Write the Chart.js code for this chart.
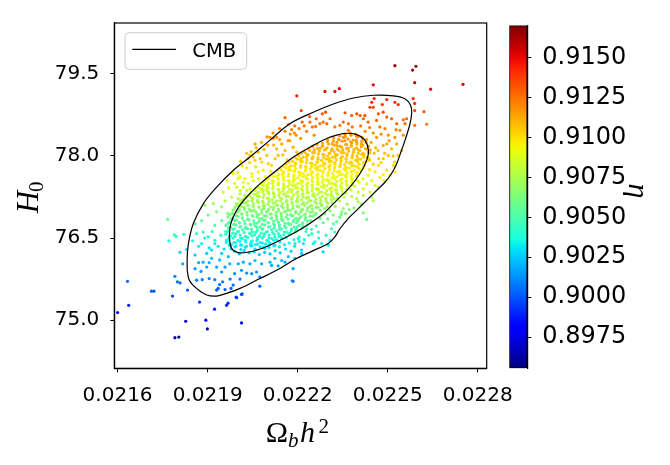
<!DOCTYPE html>
<html>
<head>
<meta charset="utf-8">
<script src="https://cdn.jsdelivr.net/npm/chart.js@4.4.1/dist/chart.umd.min.js"></script>
<style>
  body { margin: 0; background: #ffffff; }
  #wrap { position: relative; width: 670px; height: 465px; }
  #mainChart { position: absolute; left: 0; top: 0; }
  #cbarChart { position: absolute; left: 495px; top: 0; }
</style>
</head>
<body>
<div id="wrap">
  <canvas id="mainChart" width="670" height="465"></canvas>
  <canvas id="cbarChart" width="175" height="465"></canvas>
</div>
<script>
// 축 눈금
const xTicks = [0.0216, 0.0219, 0.0222, 0.0225, 0.0228];
const yTicks = [75.0, 76.5, 78.0, 79.5];
const cbTicks = [0.8975, 0.9000, 0.9025, 0.9050, 0.9075, 0.9100, 0.9125, 0.9150];
const cbMin = 0.89555;
const cbMax = 0.91701;

// CMB 등고선 (바깥 / 안쪽)
const outerOmega = [0.021832, 0.021832, 0.021836, 0.021852, 0.021886, 0.021930, 0.021986, 0.022041, 0.022108, 0.022174, 0.022252, 0.022319, 0.022386, 0.022452, 0.022519, 0.022556, 0.022576, 0.022580, 0.022574, 0.022558, 0.022544, 0.022530, 0.022513, 0.022491, 0.022463, 0.022430, 0.022397, 0.022369, 0.022341, 0.022324, 0.022302, 0.022252, 0.022197, 0.022130, 0.022074, 0.022008, 0.021963, 0.021930, 0.021897, 0.021863, 0.021839, 0.021832];
const outerH0 = [75.91, 76.15, 76.40, 76.76, 77.13, 77.43, 77.74, 77.98, 78.29, 78.59, 78.80, 78.95, 79.06, 79.11, 79.10, 79.05, 78.93, 78.78, 78.58, 78.29, 78.07, 77.86, 77.68, 77.52, 77.37, 77.19, 77.01, 76.86, 76.67, 76.52, 76.40, 76.27, 76.13, 75.91, 75.76, 75.58, 75.49, 75.44, 75.46, 75.58, 75.73, 75.91];
const innerOmega = [0.021972, 0.021977, 0.021997, 0.022030, 0.022074, 0.022130, 0.022186, 0.022241, 0.022297, 0.022352, 0.022397, 0.022424, 0.022436, 0.022430, 0.022408, 0.022374, 0.022330, 0.022286, 0.022230, 0.022174, 0.022119, 0.022063, 0.022008, 0.021980, 0.021972];
const innerH0 = [76.52, 76.76, 77.01, 77.25, 77.49, 77.74, 77.98, 78.16, 78.32, 78.41, 78.39, 78.29, 78.10, 77.92, 77.68, 77.43, 77.19, 76.95, 76.73, 76.55, 76.40, 76.28, 76.23, 76.31, 76.52];

// 샘플 점 [Omega_b h^2, H0, eta]
const outlierPoints = [
  [0.021600,75.14,0.8985],[0.021633,75.71,0.9006],[0.021637,75.27,0.8989],[0.021713,75.53,0.9000],[0.021721,75.53,0.9001],
  [0.021783,75.44,0.8996],[0.021791,74.68,0.8962],[0.021804,74.69,0.8963],[0.021827,74.98,0.8968],[0.021894,75.00,0.8978],
  [0.021899,74.84,0.8972],[0.021923,75.20,0.8987],[0.021873,75.33,0.8992],[0.021963,75.27,0.8990],[0.021968,75.31,0.8991],
  [0.022013,74.95,0.8977],[0.021995,75.42,0.8996],[0.022015,75.48,0.8998],[0.022074,75.62,0.9004],[0.022182,75.72,0.9008],
  [0.021767,76.84,0.9057],[0.021771,76.45,0.9037],[0.022430,76.84,0.9058],
  [0.022524,79.65,0.9166],[0.022583,79.57,0.9163],[0.022594,79.64,0.9166],[0.022590,79.34,0.9158],[0.022751,79.31,0.9152],
  [0.022643,79.22,0.9150],[0.022452,79.30,0.9152],[0.022197,79.10,0.9146],[0.022291,79.18,0.9149],[0.022324,79.18,0.9149],
  [0.022339,79.23,0.9151],[0.022212,78.83,0.9136],[0.022158,78.70,0.9130],[0.022585,79.05,0.9142],[0.022621,78.81,0.9130],
  [0.022630,78.58,0.9123],[0.022590,78.96,0.9140],[0.022552,78.66,0.9128]
];

const lowerRingPoints = [
  [0.021789,76.56,0.9043],[0.021795,76.53,0.9042],[0.021821,76.57,0.9043],[0.021808,76.24,0.9027],[0.021817,76.03,0.9019],
  [0.021830,76.29,0.9029],[0.021791,75.80,0.9011],[0.021799,75.70,0.9007],[0.021808,75.68,0.9006],[0.021833,75.55,0.9001],
  [0.021930,75.55,0.9001],[0.021935,75.58,0.9002],[0.021958,75.56,0.9001],[0.021985,75.64,0.9004],[0.021978,75.58,0.9002],
  [0.021863,75.73,0.9009],[0.021882,75.74,0.9009],[0.021905,75.76,0.9010],[0.021924,75.74,0.9009],[0.021950,75.70,0.9008],
  [0.021878,75.89,0.9014],[0.021897,75.97,0.9017],[0.021858,75.94,0.9016],[0.021885,76.06,0.9021],[0.021913,76.13,0.9023],
  [0.021930,75.97,0.9017],[0.021947,75.88,0.9014],[0.021958,75.97,0.9017],[0.021974,76.03,0.9020],[0.021858,76.19,0.9024],
  [0.021880,76.40,0.9034],[0.021897,76.22,0.9025],[0.021913,76.28,0.9028],[0.021924,76.40,0.9034],[0.021947,76.22,0.9025],
  [0.021969,76.16,0.9023],[0.021863,76.58,0.9044],[0.021885,76.61,0.9045],[0.021902,76.52,0.9040],[0.021924,76.46,0.9037],
  [0.021944,76.55,0.9042],[0.021963,76.46,0.9037],[0.021858,76.76,0.9053],[0.021880,76.82,0.9056],[0.021902,76.92,0.9061],
  [0.021924,76.73,0.9051],[0.021947,76.82,0.9056],[0.021967,76.95,0.9063],[0.021891,77.10,0.9070],[0.021919,77.13,0.9072],
  [0.021947,77.07,0.9069],[0.021930,76.98,0.9064],[0.022019,77.52,0.9090],[0.022047,77.62,0.9094],[0.022030,77.37,0.9084],
  [0.022008,77.31,0.9081],[0.021980,77.25,0.9078],[0.021997,77.13,0.9072],[0.021958,77.18,0.9075],[0.021952,77.34,0.9082],
  [0.022002,76.03,0.9019],[0.022019,76.06,0.9021],[0.022041,76.03,0.9019],[0.022058,76.09,0.9022],[0.022080,76.03,0.9019],
  [0.022108,76.06,0.9021],[0.022124,76.13,0.9023],[0.022147,76.09,0.9022],[0.022169,76.16,0.9024],[0.022191,76.13,0.9023],
  [0.022013,75.91,0.9015],[0.022030,75.86,0.9013],[0.022047,75.85,0.9013],[0.022063,75.88,0.9014],[0.022074,75.79,0.9011],
  [0.022113,76.00,0.9018],[0.022135,75.99,0.9018],[0.022158,76.06,0.9021],[0.022185,75.94,0.9016],[0.022008,75.75,0.9009],
  [0.022185,75.71,0.9008],[0.022013,75.47,0.8998],[0.021997,75.41,0.8996],
  [0.022230,76.67,0.9048],[0.022247,76.58,0.9044],[0.022269,76.61,0.9045],[0.022258,76.43,0.9036],[0.022280,76.40,0.9034],
  [0.022308,76.46,0.9037],[0.022302,76.37,0.9033],[0.022324,76.61,0.9045],[0.022319,76.76,0.9053],[0.022313,76.67,0.9048],
  [0.022347,76.98,0.9064],[0.022352,77.04,0.9067],[0.022285,76.25,0.9027],[0.022213,76.28,0.9028],[0.022219,76.40,0.9034],
  [0.022202,76.49,0.9038],[0.022191,76.40,0.9034],[0.022213,76.22,0.9025],[0.022252,76.40,0.9034],[0.022340,76.88,0.9059],
  [0.022365,77.12,0.9071],[0.022380,77.26,0.9078],[0.022372,77.02,0.9066],[0.022330,76.80,0.9056],[0.022295,76.55,0.9043],
  [0.022270,76.50,0.9040],[0.022345,76.93,0.9062],
  [0.022072,76.20,0.9024],[0.022090,76.24,0.9026],[0.022108,76.21,0.9025],[0.022125,76.27,0.9028],[0.022142,76.23,0.9026],
  [0.022160,76.30,0.9030],[0.022178,76.26,0.9028],[0.022104,76.33,0.9031],[0.022121,76.36,0.9033],[0.022139,76.34,0.9032],
  [0.022156,76.38,0.9034],[0.022172,76.41,0.9035],[0.022190,76.35,0.9032],[0.022205,76.44,0.9037],[0.022222,76.47,0.9038],
  [0.022188,76.47,0.9039],[0.022205,76.52,0.9041],[0.022237,76.55,0.9043],[0.022228,76.62,0.9046],[0.022246,76.66,0.9048],
  [0.021870,76.35,0.9032],[0.021890,76.50,0.9039],[0.021905,76.32,0.9030],[0.021935,76.35,0.9032],[0.021955,76.30,0.9030],
  [0.021870,76.05,0.9020],[0.021905,76.05,0.9020],[0.021940,76.10,0.9022],[0.021960,76.62,0.9046],[0.021915,76.62,0.9046],
  [0.021850,76.45,0.9037],[0.021990,75.85,0.9013],[0.021975,75.75,0.9009],[0.021940,75.65,0.9005]
];

const upperRingPoints = [
  [0.022170,78.58,0.9125],[0.022189,78.42,0.9119],[0.022241,78.62,0.9127],[0.022249,78.53,0.9123],[0.022260,78.54,0.9124],
  [0.022274,78.59,0.9126],[0.022285,78.62,0.9127],[0.022297,78.59,0.9126],[0.022282,78.77,0.9133],[0.022293,78.80,0.9134],
  [0.022308,78.68,0.9129],[0.022324,78.53,0.9123],[0.022341,78.56,0.9124],[0.022352,78.62,0.9127],[0.022358,78.79,0.9134],
  [0.022369,78.59,0.9126],[0.022380,78.74,0.9132],[0.022382,78.53,0.9123],[0.022369,78.47,0.9121],
  [0.022108,78.34,0.9117],[0.022119,78.32,0.9116],[0.022130,78.34,0.9117],[0.022147,78.22,0.9112],[0.022130,78.13,0.9109],
  [0.022158,78.10,0.9108],[0.022174,78.28,0.9114],[0.022185,78.16,0.9110],[0.022197,78.07,0.9107],
  [0.022041,78.01,0.9106],[0.022035,77.95,0.9105],[0.022052,77.98,0.9106],[0.022069,78.07,0.9107],[0.022080,77.89,0.9103],
  [0.022097,78.01,0.9106],[0.022102,77.86,0.9102],[0.022113,77.83,0.9101],[0.022135,78.01,0.9106],
  [0.022002,77.59,0.9092],[0.022008,77.62,0.9093],[0.022024,77.59,0.9092],[0.022047,77.68,0.9095],[0.022052,77.55,0.9091],
  [0.022069,77.71,0.9096],[0.022086,77.52,0.9090],[0.022019,77.43,0.9086],[0.022008,77.37,0.9084],[0.022041,77.40,0.9085],
  [0.022058,77.37,0.9084],[0.022080,77.40,0.9085],[0.022097,77.37,0.9084],[0.021997,77.43,0.9086],[0.022002,77.22,0.9077],
  [0.022024,77.28,0.9079],[0.022013,77.19,0.9076],
  [0.022060,77.80,0.9099],[0.022085,77.74,0.9097],[0.022125,77.95,0.9105],[0.022150,78.02,0.9106],[0.022165,77.93,0.9104],
  [0.022030,77.78,0.9098],[0.022120,78.20,0.9111],[0.022175,78.40,0.9118],[0.022210,78.32,0.9116],[0.022230,78.45,0.9120],
  [0.022255,78.38,0.9118],[0.022205,78.50,0.9122],
  [0.021990,77.50,0.9089],[0.022000,77.70,0.9096],[0.022015,77.82,0.9100],[0.022040,77.88,0.9102],[0.022058,77.92,0.9104],
  [0.022075,77.95,0.9105],[0.022088,78.12,0.9109],[0.022100,78.20,0.9111],[0.022062,78.15,0.9110],[0.022045,78.08,0.9107],
  [0.022140,78.30,0.9115],[0.022158,78.45,0.9120],[0.022190,78.55,0.9124],[0.022215,78.62,0.9127],[0.022092,77.62,0.9094],
  [0.022070,77.58,0.9092],[0.022110,77.72,0.9097],[0.022035,77.50,0.9089],
  [0.022455,79.05,0.9144],[0.022447,78.98,0.9141],[0.022441,78.89,0.9138],[0.022452,78.89,0.9138],[0.022482,78.94,0.9140],
  [0.022497,79.03,0.9143],[0.022524,78.98,0.9141],[0.022535,78.94,0.9140],[0.022590,78.83,0.9136],[0.022590,78.56,0.9124],
  [0.022563,78.68,0.9129],[0.022558,78.59,0.9126],[0.022530,78.59,0.9126],[0.022513,78.68,0.9129],[0.022497,78.71,0.9130],
  [0.022485,78.80,0.9134],[0.022469,78.77,0.9133],[0.022463,78.65,0.9128],[0.022435,78.62,0.9127],[0.022419,78.68,0.9129],
  [0.022408,78.74,0.9132],[0.022397,78.77,0.9133],[0.022424,78.74,0.9132],
  [0.022474,78.53,0.9123],[0.022491,78.50,0.9122],[0.022502,78.38,0.9118],[0.022524,78.34,0.9117],[0.022541,78.47,0.9121],
  [0.022552,78.38,0.9118],[0.022530,78.22,0.9112],[0.022513,78.13,0.9109],[0.022485,78.19,0.9111],[0.022463,78.34,0.9117],
  [0.022497,78.22,0.9112],[0.022547,78.10,0.9108],[0.022502,78.01,0.9106],[0.022485,77.95,0.9105],[0.022524,77.89,0.9103],
  [0.022535,78.01,0.9106],
  [0.022469,77.83,0.9101],[0.022497,77.74,0.9098],[0.022519,77.83,0.9101],[0.022458,77.71,0.9097],[0.022474,77.61,0.9094],
  [0.022524,77.71,0.9097],[0.022508,77.65,0.9095],[0.022447,77.55,0.9091],[0.022430,77.49,0.9089],[0.022458,77.46,0.9088],
  [0.022419,77.40,0.9085],[0.022441,77.34,0.9082],[0.022469,77.43,0.9087],[0.022402,77.34,0.9082],[0.022419,77.28,0.9080],
  [0.022447,77.25,0.9078],[0.022397,77.22,0.9077],[0.022402,77.16,0.9074],[0.022419,76.96,0.9064],[0.022452,77.18,0.9075],
  [0.022410,78.55,0.9124],[0.022425,78.45,0.9120],[0.022440,78.52,0.9123],[0.022452,78.42,0.9119],[0.022445,78.25,0.9113],
  [0.022460,78.15,0.9110],[0.022455,78.05,0.9107],[0.022470,77.95,0.9105]
];

const extraRingPoints = [
  [0.022262,76.72,0.9051],[0.022285,76.78,0.9054],[0.022300,76.85,0.9058],[0.022318,76.92,0.9062],[0.022275,76.86,0.9058],
  [0.022290,76.95,0.9063],[0.022308,77.00,0.9066],[0.022325,77.08,0.9070],[0.022340,77.18,0.9075],[0.022322,77.22,0.9077],
  [0.022355,77.25,0.9078],[0.022360,77.32,0.9081],[0.022378,77.38,0.9084],[0.022390,77.45,0.9087],[0.022405,77.52,0.9090],
  [0.022418,77.58,0.9092],[0.022435,77.65,0.9094],[0.022440,77.75,0.9098],[0.022452,77.85,0.9101],[0.022440,77.92,0.9104],
  [0.022478,77.88,0.9102],[0.022490,78.05,0.9107],[0.022468,78.10,0.9108],[0.022518,78.00,0.9106],[0.022505,78.28,0.9114],
  [0.022478,78.40,0.9118],[0.022528,78.48,0.9121],[0.022488,77.55,0.9091],[0.022485,77.66,0.9095],[0.022412,77.12,0.9072],
  [0.022388,77.05,0.9068],[0.022360,76.95,0.9063],
  [0.022080,78.25,0.9113],[0.022098,78.35,0.9117],[0.022118,78.42,0.9119],[0.022140,78.50,0.9122],[0.022168,78.28,0.9114],
  [0.022195,78.38,0.9118],[0.022222,78.55,0.9124],[0.022240,78.72,0.9131],[0.022262,78.68,0.9129],[0.022180,78.48,0.9121],
  [0.022058,78.22,0.9112],[0.022030,78.05,0.9107],[0.022010,77.90,0.9103],[0.021985,77.68,0.9095],[0.021965,77.55,0.9091],
  [0.021970,77.42,0.9086]
];

const corePoints = [
  [0.021990,76.26,0.9027],[0.022005,76.21,0.9025],[0.022022,76.27,0.9027],[0.022038,76.23,0.9026],[0.022055,76.25,0.9026],
  [0.021978,76.30,0.9029],[0.021994,76.35,0.9031],[0.022011,76.29,0.9029],[0.022026,76.33,0.9030],[0.022043,76.36,0.9032],[0.022058,76.30,0.9029],[0.022075,76.34,0.9031],[0.022091,76.31,0.9030],
  [0.021962,76.42,0.9035],[0.021979,76.38,0.9033],[0.021994,76.41,0.9034],[0.022012,76.37,0.9033],[0.022027,76.43,0.9035],[0.022044,76.40,0.9034],[0.022060,76.38,0.9033],[0.022076,76.42,0.9035],[0.022093,76.39,0.9034],[0.022108,76.41,0.9034],[0.022124,76.37,0.9033],
  [0.021968,76.47,0.9038],[0.021985,76.50,0.9039],[0.022001,76.46,0.9037],[0.022016,76.49,0.9038],[0.022034,76.51,0.9039],[0.022049,76.45,0.9037],[0.022066,76.48,0.9038],[0.022082,76.50,0.9039],[0.022097,76.46,0.9037],[0.022114,76.49,0.9038],[0.022130,76.47,0.9038],[0.022147,76.50,0.9039],
  [0.021960,76.57,0.9043],[0.021976,76.54,0.9042],[0.021993,76.58,0.9043],[0.022009,76.55,0.9042],[0.022025,76.53,0.9041],[0.022041,76.59,0.9044],[0.022057,76.56,0.9042],[0.022073,76.54,0.9042],[0.022090,76.58,0.9043],[0.022105,76.55,0.9042],[0.022122,76.57,0.9043],[0.022138,76.53,0.9041],[0.022154,76.56,0.9042],[0.022171,76.58,0.9043],
  [0.021967,76.63,0.9046],[0.021984,76.66,0.9048],[0.022000,76.62,0.9046],[0.022017,76.65,0.9047],[0.022033,76.67,0.9048],[0.022049,76.61,0.9045],[0.022066,76.64,0.9047],[0.022081,76.66,0.9048],[0.022098,76.62,0.9046],[0.022113,76.65,0.9047],[0.022130,76.63,0.9046],[0.022146,76.67,0.9048],[0.022163,76.61,0.9045],[0.022179,76.64,0.9047],[0.022195,76.66,0.9048],
  [0.021961,76.73,0.9052],[0.021977,76.70,0.9050],[0.021994,76.74,0.9052],[0.022010,76.71,0.9051],[0.022026,76.69,0.9050],[0.022042,76.75,0.9053],[0.022059,76.72,0.9051],[0.022075,76.70,0.9050],[0.022091,76.74,0.9052],[0.022107,76.71,0.9051],[0.022123,76.73,0.9052],[0.022140,76.69,0.9050],[0.022156,76.72,0.9051],[0.022172,76.75,0.9053],[0.022188,76.70,0.9050],[0.022205,76.73,0.9052],[0.022219,76.71,0.9051],
  [0.021973,76.79,0.9055],[0.021990,76.82,0.9056],[0.022006,76.78,0.9054],[0.022022,76.81,0.9056],[0.022038,76.83,0.9057],[0.022055,76.77,0.9054],[0.022071,76.80,0.9055],[0.022087,76.82,0.9056],[0.022103,76.78,0.9054],[0.022120,76.81,0.9056],[0.022136,76.79,0.9055],[0.022152,76.83,0.9057],[0.022168,76.77,0.9054],[0.022185,76.80,0.9055],[0.022201,76.82,0.9056],[0.022217,76.78,0.9054],[0.022233,76.81,0.9056],
  [0.021968,76.89,0.9060],[0.021984,76.86,0.9058],[0.022000,76.90,0.9060],[0.022016,76.87,0.9059],[0.022033,76.85,0.9058],[0.022049,76.91,0.9061],[0.022065,76.88,0.9059],[0.022081,76.86,0.9058],[0.022097,76.90,0.9060],[0.022114,76.87,0.9059],[0.022130,76.89,0.9060],[0.022146,76.85,0.9058],[0.022162,76.88,0.9059],[0.022178,76.91,0.9061],[0.022195,76.86,0.9058],[0.022211,76.89,0.9060],[0.022227,76.87,0.9059],[0.022250,76.90,0.9060],
  [0.021983,76.95,0.9063],[0.021999,76.98,0.9065],[0.022015,76.94,0.9063],[0.022031,76.97,0.9064],[0.022048,76.99,0.9065],[0.022064,76.93,0.9062],[0.022080,76.96,0.9064],[0.022096,76.98,0.9065],[0.022112,76.94,0.9063],[0.022129,76.97,0.9064],[0.022145,76.95,0.9063],[0.022161,76.99,0.9065],[0.022177,76.93,0.9062],[0.022193,76.96,0.9064],[0.022210,76.98,0.9065],[0.022226,76.94,0.9063],[0.022242,76.97,0.9064],[0.022262,76.95,0.9063],
  [0.021990,77.05,0.9068],[0.022006,77.02,0.9066],[0.022022,77.06,0.9068],[0.022038,77.03,0.9067],[0.022055,77.01,0.9066],[0.022071,77.07,0.9069],[0.022087,77.04,0.9067],[0.022103,77.02,0.9066],[0.022119,77.06,0.9068],[0.022136,77.03,0.9067],[0.022152,77.05,0.9068],[0.022168,77.01,0.9066],[0.022184,77.04,0.9067],[0.022200,77.07,0.9069],[0.022217,77.02,0.9066],[0.022233,77.05,0.9068],[0.022249,77.03,0.9067],[0.022268,77.06,0.9068],[0.022290,77.04,0.9067],
  [0.022004,77.11,0.9071],[0.022020,77.14,0.9073],[0.022036,77.10,0.9071],[0.022052,77.13,0.9072],[0.022069,77.15,0.9073],[0.022085,77.09,0.9070],[0.022101,77.12,0.9072],[0.022117,77.14,0.9073],[0.022133,77.10,0.9071],[0.022150,77.13,0.9072],[0.022166,77.11,0.9071],[0.022182,77.15,0.9073],[0.022198,77.09,0.9070],[0.022214,77.12,0.9072],[0.022231,77.14,0.9073],[0.022247,77.10,0.9071],[0.022263,77.13,0.9072],[0.022280,77.11,0.9071],[0.022300,77.14,0.9073],
  [0.022018,77.21,0.9077],[0.022034,77.18,0.9075],[0.022050,77.22,0.9077],[0.022066,77.19,0.9076],[0.022083,77.17,0.9075],[0.022099,77.23,0.9078],[0.022115,77.20,0.9076],[0.022131,77.18,0.9075],[0.022147,77.22,0.9077],[0.022164,77.19,0.9076],[0.022180,77.21,0.9077],[0.022196,77.17,0.9075],[0.022212,77.20,0.9076],[0.022228,77.23,0.9078],[0.022245,77.18,0.9075],[0.022261,77.21,0.9077],[0.022277,77.19,0.9076],[0.022294,77.22,0.9077],[0.022312,77.20,0.9076],
  [0.022040,77.27,0.9079],[0.022056,77.30,0.9080],[0.022072,77.26,0.9078],[0.022088,77.29,0.9080],[0.022105,77.31,0.9081],[0.022121,77.25,0.9078],[0.022137,77.28,0.9079],[0.022153,77.30,0.9080],[0.022169,77.26,0.9078],[0.022186,77.29,0.9080],[0.022202,77.27,0.9079],[0.022218,77.31,0.9081],[0.022234,77.25,0.9078],[0.022250,77.28,0.9079],[0.022267,77.30,0.9080],[0.022283,77.26,0.9078],[0.022299,77.29,0.9080],[0.022316,77.27,0.9079],[0.022334,77.30,0.9080],
  [0.022054,77.37,0.9083],[0.022070,77.34,0.9082],[0.022086,77.38,0.9084],[0.022102,77.35,0.9083],[0.022119,77.33,0.9082],[0.022135,77.39,0.9084],[0.022151,77.36,0.9083],[0.022167,77.34,0.9082],[0.022183,77.38,0.9084],[0.022200,77.35,0.9083],[0.022216,77.37,0.9083],[0.022232,77.33,0.9082],[0.022248,77.36,0.9083],[0.022264,77.39,0.9084],[0.022281,77.34,0.9082],[0.022297,77.37,0.9083],[0.022313,77.35,0.9083],[0.022330,77.38,0.9084],[0.022348,77.36,0.9083],
  [0.022070,77.43,0.9086],[0.022086,77.46,0.9087],[0.022102,77.42,0.9085],[0.022118,77.45,0.9087],[0.022135,77.47,0.9088],[0.022151,77.41,0.9085],[0.022167,77.44,0.9086],[0.022183,77.46,0.9087],[0.022199,77.42,0.9085],[0.022216,77.45,0.9087],[0.022232,77.43,0.9086],[0.022248,77.47,0.9088],[0.022264,77.41,0.9085],[0.022280,77.44,0.9086],[0.022297,77.46,0.9087],[0.022313,77.42,0.9085],[0.022329,77.45,0.9087],[0.022346,77.43,0.9086],[0.022365,77.46,0.9087],
  [0.022088,77.53,0.9090],[0.022104,77.50,0.9089],[0.022120,77.54,0.9090],[0.022136,77.51,0.9089],[0.022153,77.49,0.9088],[0.022169,77.55,0.9091],[0.022185,77.52,0.9089],[0.022201,77.50,0.9089],[0.022217,77.54,0.9090],[0.022234,77.51,0.9089],[0.022250,77.53,0.9090],[0.022266,77.49,0.9088],[0.022282,77.52,0.9089],[0.022298,77.55,0.9091],[0.022315,77.50,0.9089],[0.022331,77.53,0.9090],[0.022347,77.51,0.9089],[0.022364,77.54,0.9090],[0.022380,77.52,0.9089],
  [0.022104,77.59,0.9092],[0.022120,77.62,0.9093],[0.022136,77.58,0.9092],[0.022152,77.61,0.9093],[0.022169,77.63,0.9094],[0.022185,77.57,0.9091],[0.022201,77.60,0.9092],[0.022217,77.62,0.9093],[0.022233,77.58,0.9092],[0.022250,77.61,0.9093],[0.022266,77.59,0.9092],[0.022282,77.63,0.9094],[0.022298,77.57,0.9091],[0.022314,77.60,0.9092],[0.022331,77.62,0.9093],[0.022347,77.58,0.9092],[0.022363,77.61,0.9093],[0.022380,77.59,0.9092],[0.022395,77.62,0.9093],
  [0.022122,77.69,0.9095],[0.022138,77.66,0.9094],[0.022154,77.70,0.9096],[0.022170,77.67,0.9095],[0.022187,77.65,0.9094],[0.022203,77.71,0.9096],[0.022219,77.68,0.9095],[0.022235,77.66,0.9094],[0.022251,77.70,0.9096],[0.022268,77.67,0.9095],[0.022284,77.69,0.9095],[0.022300,77.65,0.9094],[0.022316,77.68,0.9095],[0.022332,77.71,0.9096],[0.022349,77.66,0.9094],[0.022365,77.69,0.9095],[0.022381,77.67,0.9095],[0.022398,77.70,0.9096],
  [0.022145,77.75,0.9098],[0.022161,77.78,0.9099],[0.022177,77.74,0.9097],[0.022193,77.77,0.9098],[0.022210,77.79,0.9099],[0.022226,77.73,0.9097],[0.022242,77.76,0.9098],[0.022258,77.78,0.9099],[0.022274,77.74,0.9097],[0.022291,77.77,0.9098],[0.022307,77.75,0.9098],[0.022323,77.79,0.9099],[0.022339,77.73,0.9097],[0.022355,77.76,0.9098],[0.022372,77.78,0.9099],[0.022388,77.74,0.9097],[0.022405,77.77,0.9098],
  [0.022162,77.85,0.9101],[0.022178,77.82,0.9100],[0.022194,77.86,0.9102],[0.022210,77.83,0.9101],[0.022227,77.81,0.9100],[0.022243,77.87,0.9102],[0.022259,77.84,0.9101],[0.022275,77.82,0.9100],[0.022291,77.86,0.9102],[0.022308,77.83,0.9101],[0.022324,77.85,0.9101],[0.022340,77.81,0.9100],[0.022356,77.84,0.9101],[0.022372,77.87,0.9102],[0.022389,77.82,0.9100],[0.022405,77.85,0.9101],[0.022422,77.83,0.9101],
  [0.022183,77.91,0.9103],[0.022199,77.94,0.9104],[0.022215,77.90,0.9103],[0.022231,77.93,0.9104],[0.022248,77.95,0.9105],[0.022264,77.89,0.9103],[0.022280,77.92,0.9104],[0.022296,77.94,0.9104],[0.022312,77.90,0.9103],[0.022329,77.93,0.9104],[0.022345,77.91,0.9103],[0.022361,77.95,0.9105],[0.022377,77.89,0.9103],[0.022393,77.92,0.9104],[0.022410,77.94,0.9104],[0.022428,77.90,0.9103],
  [0.022203,78.01,0.9106],[0.022219,77.98,0.9105],[0.022235,78.02,0.9106],[0.022251,77.99,0.9105],[0.022268,77.97,0.9105],[0.022284,78.03,0.9107],[0.022300,78.00,0.9106],[0.022316,77.98,0.9105],[0.022332,78.02,0.9106],[0.022349,77.99,0.9105],[0.022365,78.01,0.9106],[0.022381,77.97,0.9105],[0.022397,78.00,0.9106],[0.022414,78.03,0.9107],[0.022432,77.98,0.9105],
  [0.022224,78.07,0.9107],[0.022240,78.10,0.9108],[0.022256,78.06,0.9107],[0.022272,78.09,0.9108],[0.022289,78.11,0.9109],[0.022305,78.05,0.9107],[0.022321,78.08,0.9108],[0.022337,78.10,0.9108],[0.022353,78.06,0.9107],[0.022370,78.09,0.9108],[0.022386,78.07,0.9107],[0.022402,78.11,0.9109],[0.022418,78.05,0.9107],[0.022436,78.08,0.9108],
  [0.022250,78.17,0.9111],[0.022266,78.14,0.9110],[0.022282,78.18,0.9111],[0.022298,78.15,0.9110],[0.022315,78.13,0.9110],[0.022331,78.19,0.9112],[0.022347,78.16,0.9111],[0.022363,78.14,0.9110],[0.022379,78.18,0.9111],[0.022396,78.15,0.9110],[0.022412,78.17,0.9111],[0.022430,78.13,0.9110],
  [0.022283,78.23,0.9113],[0.022299,78.26,0.9114],[0.022315,78.22,0.9113],[0.022331,78.25,0.9114],[0.022348,78.27,0.9115],[0.022364,78.21,0.9113],[0.022380,78.24,0.9114],[0.022396,78.26,0.9114],[0.022412,78.22,0.9113],[0.022428,78.25,0.9114],
  [0.022320,78.33,0.9116],[0.022336,78.30,0.9115],[0.022352,78.34,0.9117],[0.022368,78.31,0.9116],[0.022385,78.29,0.9115],[0.022401,78.35,0.9117],[0.022417,78.32,0.9116],
  [0.022358,78.39,0.9118],[0.022375,78.42,0.9119],[0.022392,78.40,0.9119]
];

const coreFillPoints = [
  [0.021972,76.37,0.9032],[0.021991,76.34,0.9031],[0.022010,76.38,0.9033],[0.022029,76.35,0.9032],[0.022048,76.36,0.9032],[0.022067,76.39,0.9033],[0.022086,76.33,0.9031],[0.022105,76.37,0.9032],
  [0.021969,76.45,0.9036],[0.021988,76.42,0.9035],[0.022007,76.44,0.9036],[0.022026,76.46,0.9037],[0.022045,76.43,0.9035],[0.022064,76.45,0.9036],[0.022083,76.41,0.9035],[0.022102,76.44,0.9036],[0.022121,76.46,0.9037],[0.022140,76.43,0.9035],
  [0.021972,76.51,0.9039],[0.021991,76.53,0.9040],[0.022010,76.50,0.9039],[0.022029,76.52,0.9040],[0.022048,76.54,0.9041],[0.022067,76.51,0.9039],[0.022086,76.53,0.9040],[0.022105,76.50,0.9039],[0.022124,76.52,0.9040],[0.022143,76.54,0.9041],[0.022162,76.51,0.9039],
  [0.021965,76.61,0.9045],[0.021984,76.59,0.9044],[0.022003,76.62,0.9045],[0.022022,76.60,0.9045],[0.022041,76.58,0.9044],[0.022060,76.61,0.9045],[0.022079,76.59,0.9044],[0.022098,76.62,0.9045],[0.022117,76.60,0.9045],[0.022136,76.58,0.9044],[0.022155,76.61,0.9045],[0.022174,76.59,0.9044],[0.022193,76.62,0.9045],
  [0.021970,76.69,0.9049],[0.021989,76.67,0.9048],[0.022008,76.70,0.9050],[0.022027,76.68,0.9049],[0.022046,76.66,0.9048],[0.022065,76.69,0.9049],[0.022084,76.67,0.9048],[0.022103,76.70,0.9050],[0.022122,76.68,0.9049],[0.022141,76.66,0.9048],[0.022160,76.69,0.9049],[0.022179,76.67,0.9048],[0.022198,76.70,0.9050],[0.022215,76.68,0.9049],
  [0.021968,76.77,0.9054],[0.021987,76.75,0.9053],[0.022006,76.78,0.9054],[0.022025,76.76,0.9053],[0.022044,76.74,0.9052],[0.022063,76.77,0.9054],[0.022082,76.75,0.9053],[0.022101,76.78,0.9054],[0.022120,76.76,0.9053],[0.022139,76.74,0.9052],[0.022158,76.77,0.9054],[0.022177,76.75,0.9053],[0.022196,76.78,0.9054],[0.022215,76.76,0.9053],[0.022232,76.74,0.9052],
  [0.021978,76.85,0.9058],[0.021997,76.83,0.9057],[0.022016,76.86,0.9058],[0.022035,76.84,0.9057],[0.022054,76.82,0.9056],[0.022073,76.85,0.9058],[0.022092,76.83,0.9057],[0.022111,76.86,0.9058],[0.022130,76.84,0.9057],[0.022149,76.82,0.9056],[0.022168,76.85,0.9058],[0.022187,76.83,0.9057],[0.022206,76.86,0.9058],[0.022225,76.84,0.9057],[0.022243,76.82,0.9056],
  [0.021975,76.93,0.9062],[0.021994,76.91,0.9061],[0.022013,76.94,0.9063],[0.022032,76.92,0.9062],[0.022051,76.90,0.9061],[0.022070,76.93,0.9062],[0.022089,76.91,0.9061],[0.022108,76.94,0.9063],[0.022127,76.92,0.9062],[0.022146,76.90,0.9061],[0.022165,76.93,0.9062],[0.022184,76.91,0.9061],[0.022203,76.94,0.9063],[0.022222,76.92,0.9062],[0.022241,76.90,0.9061],[0.022258,76.93,0.9062],
  [0.021985,77.01,0.9066],[0.022004,76.99,0.9065],[0.022023,77.02,0.9066],[0.022042,77.00,0.9066],[0.022061,76.98,0.9065],[0.022080,77.01,0.9066],[0.022099,76.99,0.9065],[0.022118,77.02,0.9066],[0.022137,77.00,0.9066],[0.022156,76.98,0.9065],[0.022175,77.01,0.9066],[0.022194,76.99,0.9065],[0.022213,77.02,0.9066],[0.022232,77.00,0.9066],[0.022251,76.98,0.9065],[0.022275,77.01,0.9066],
  [0.021995,77.09,0.9070],[0.022014,77.07,0.9069],[0.022033,77.10,0.9071],[0.022052,77.08,0.9070],[0.022071,77.06,0.9069],[0.022090,77.09,0.9070],[0.022109,77.07,0.9069],[0.022128,77.10,0.9071],[0.022147,77.08,0.9070],[0.022166,77.06,0.9069],[0.022185,77.09,0.9070],[0.022204,77.07,0.9069],[0.022223,77.10,0.9071],[0.022242,77.08,0.9070],[0.022261,77.06,0.9069],[0.022280,77.09,0.9070],[0.022298,77.07,0.9069],
  [0.022010,77.17,0.9074],[0.022029,77.15,0.9073],[0.022048,77.18,0.9075],[0.022067,77.16,0.9074],[0.022086,77.14,0.9073],[0.022105,77.17,0.9074],[0.022124,77.15,0.9073],[0.022143,77.18,0.9075],[0.022162,77.16,0.9074],[0.022181,77.14,0.9073],[0.022200,77.17,0.9074],[0.022219,77.15,0.9073],[0.022238,77.18,0.9075],[0.022257,77.16,0.9074],[0.022276,77.14,0.9073],[0.022295,77.17,0.9074],[0.022314,77.15,0.9073],
  [0.022028,77.25,0.9078],[0.022047,77.23,0.9077],[0.022066,77.26,0.9078],[0.022085,77.24,0.9078],[0.022104,77.22,0.9077],[0.022123,77.25,0.9078],[0.022142,77.23,0.9077],[0.022161,77.26,0.9078],[0.022180,77.24,0.9078],[0.022199,77.22,0.9077],[0.022218,77.25,0.9078],[0.022237,77.23,0.9077],[0.022256,77.26,0.9078],[0.022275,77.24,0.9078],[0.022294,77.22,0.9077],[0.022313,77.25,0.9078],[0.022332,77.23,0.9077],
  [0.022045,77.33,0.9081],[0.022064,77.31,0.9081],[0.022083,77.34,0.9082],[0.022102,77.32,0.9081],[0.022121,77.30,0.9080],[0.022140,77.33,0.9081],[0.022159,77.31,0.9081],[0.022178,77.34,0.9082],[0.022197,77.32,0.9081],[0.022216,77.30,0.9080],[0.022235,77.33,0.9081],[0.022254,77.31,0.9081],[0.022273,77.34,0.9082],[0.022292,77.32,0.9081],[0.022311,77.30,0.9080],[0.022330,77.33,0.9081],[0.022349,77.31,0.9081],
  [0.022060,77.41,0.9085],[0.022079,77.39,0.9084],[0.022098,77.42,0.9085],[0.022117,77.40,0.9085],[0.022136,77.38,0.9084],[0.022155,77.41,0.9085],[0.022174,77.39,0.9084],[0.022193,77.42,0.9085],[0.022212,77.40,0.9085],[0.022231,77.38,0.9084],[0.022250,77.41,0.9085],[0.022269,77.39,0.9084],[0.022288,77.42,0.9085],[0.022307,77.40,0.9085],[0.022326,77.38,0.9084],[0.022345,77.41,0.9085],[0.022364,77.39,0.9084],
  [0.022078,77.49,0.9088],[0.022097,77.47,0.9087],[0.022116,77.50,0.9089],[0.022135,77.48,0.9088],[0.022154,77.46,0.9087],[0.022173,77.49,0.9088],[0.022192,77.47,0.9087],[0.022211,77.50,0.9089],[0.022230,77.48,0.9088],[0.022249,77.46,0.9087],[0.022268,77.49,0.9088],[0.022287,77.47,0.9087],[0.022306,77.50,0.9089],[0.022325,77.48,0.9088],[0.022344,77.46,0.9087],[0.022363,77.49,0.9088],[0.022382,77.47,0.9087],
  [0.022096,77.57,0.9091],[0.022115,77.55,0.9091],[0.022134,77.58,0.9092],[0.022153,77.56,0.9091],[0.022172,77.54,0.9090],[0.022191,77.57,0.9091],[0.022210,77.55,0.9091],[0.022229,77.58,0.9092],[0.022248,77.56,0.9091],[0.022267,77.54,0.9090],[0.022286,77.57,0.9091],[0.022305,77.55,0.9091],[0.022324,77.58,0.9092],[0.022343,77.56,0.9091],[0.022362,77.54,0.9090],[0.022381,77.57,0.9091],[0.022398,77.55,0.9091],
  [0.022112,77.65,0.9094],[0.022131,77.63,0.9094],[0.022150,77.66,0.9095],[0.022169,77.64,0.9094],[0.022188,77.62,0.9093],[0.022207,77.65,0.9094],[0.022226,77.63,0.9094],[0.022245,77.66,0.9095],[0.022264,77.64,0.9094],[0.022283,77.62,0.9093],[0.022302,77.65,0.9094],[0.022321,77.63,0.9094],[0.022340,77.66,0.9095],[0.022359,77.64,0.9094],[0.022378,77.62,0.9093],[0.022397,77.65,0.9094],
  [0.022132,77.73,0.9097],[0.022151,77.71,0.9096],[0.022170,77.74,0.9097],[0.022189,77.72,0.9097],[0.022208,77.70,0.9096],[0.022227,77.73,0.9097],[0.022246,77.71,0.9096],[0.022265,77.74,0.9097],[0.022284,77.72,0.9097],[0.022303,77.70,0.9096],[0.022322,77.73,0.9097],[0.022341,77.71,0.9096],[0.022360,77.74,0.9097],[0.022379,77.72,0.9097],[0.022398,77.70,0.9096],[0.022412,77.73,0.9097],
  [0.022152,77.81,0.9100],[0.022171,77.79,0.9099],[0.022190,77.82,0.9100],[0.022209,77.80,0.9100],[0.022228,77.78,0.9099],[0.022247,77.81,0.9100],[0.022266,77.79,0.9099],[0.022285,77.82,0.9100],[0.022304,77.80,0.9100],[0.022323,77.78,0.9099],[0.022342,77.81,0.9100],[0.022361,77.79,0.9099],[0.022380,77.82,0.9100],[0.022399,77.80,0.9100],[0.022418,77.78,0.9099],
  [0.022172,77.89,0.9103],[0.022191,77.87,0.9102],[0.022210,77.90,0.9103],[0.022229,77.88,0.9102],[0.022248,77.86,0.9102],[0.022267,77.89,0.9103],[0.022286,77.87,0.9102],[0.022305,77.90,0.9103],[0.022324,77.88,0.9102],[0.022343,77.86,0.9102],[0.022362,77.89,0.9103],[0.022381,77.87,0.9102],[0.022400,77.90,0.9103],[0.022419,77.88,0.9102],
  [0.022192,77.97,0.9105],[0.022211,77.95,0.9105],[0.022230,77.98,0.9105],[0.022249,77.96,0.9105],[0.022268,77.94,0.9104],[0.022287,77.97,0.9105],[0.022306,77.95,0.9105],[0.022325,77.98,0.9105],[0.022344,77.96,0.9105],[0.022363,77.94,0.9104],[0.022382,77.97,0.9105],[0.022401,77.95,0.9105],[0.022420,77.98,0.9105],[0.022436,77.96,0.9105],
  [0.022212,78.05,0.9107],[0.022231,78.03,0.9107],[0.022250,78.06,0.9107],[0.022269,78.04,0.9107],[0.022288,78.02,0.9106],[0.022307,78.05,0.9107],[0.022326,78.03,0.9107],[0.022345,78.06,0.9107],[0.022364,78.04,0.9107],[0.022383,78.02,0.9106],[0.022402,78.05,0.9107],[0.022421,78.03,0.9107],[0.022440,78.06,0.9107],
  [0.022236,78.13,0.9109],[0.022255,78.11,0.9109],[0.022274,78.14,0.9110],[0.022293,78.12,0.9109],[0.022312,78.10,0.9108],[0.022331,78.13,0.9109],[0.022350,78.11,0.9109],[0.022369,78.14,0.9110],[0.022388,78.12,0.9109],[0.022407,78.10,0.9108],[0.022426,78.13,0.9109],[0.022442,78.11,0.9109],
  [0.022265,78.21,0.9112],[0.022284,78.19,0.9111],[0.022303,78.22,0.9112],[0.022322,78.20,0.9112],[0.022341,78.18,0.9111],[0.022360,78.21,0.9112],[0.022379,78.19,0.9111],[0.022398,78.22,0.9112],[0.022417,78.20,0.9112],[0.022436,78.18,0.9111],
  [0.022300,78.29,0.9115],[0.022319,78.27,0.9114],[0.022338,78.30,0.9115],[0.022357,78.28,0.9115],[0.022376,78.26,0.9114],[0.022395,78.29,0.9115],[0.022414,78.27,0.9114],[0.022430,78.30,0.9115],
  [0.022340,78.37,0.9117],[0.022359,78.35,0.9117],[0.022378,78.38,0.9118],[0.022397,78.36,0.9117],[0.022414,78.34,0.9116]
];

const allPoints = [...corePoints, ...coreFillPoints, ...lowerRingPoints, ...upperRingPoints, ...extraRingPoints, ...outlierPoints];

// matplotlib jet 컬러맵
const jetRed = [[0, 0], [0.35, 0], [0.66, 1], [0.89, 1], [1, 0.5]];
const jetGreen = [[0, 0], [0.125, 0], [0.375, 1], [0.64, 1], [0.91, 0], [1, 0]];
const jetBlue = [[0, 0.5], [0.11, 1], [0.34, 1], [0.65, 0], [1, 0]];

function segValue(seg, t) {
  for (let i = 1; i < seg.length; i++) {
    if (t <= seg[i][0]) {
      const [x0, y0] = seg[i - 1];
      const [x1, y1] = seg[i];
      return y0 + (y1 - y0) * (t - x0) / (x1 - x0);
    }
  }
  return seg[seg.length - 1][1];
}

function jetAt(t) {
  t = Math.max(0, Math.min(1, t));
  const r = Math.round(255 * segValue(jetRed, t));
  const g = Math.round(255 * segValue(jetGreen, t));
  const b = Math.round(255 * segValue(jetBlue, t));
  return `rgb(${r},${g},${b})`;
}

function jetColor(v) {
  return jetAt((v - cbMin) / (cbMax - cbMin));
}

// 테두리 + 범례 + 축 제목
const frameAndLabels = {
  id: "frameAndLabels",
  afterDraw(chart) {
    const { ctx, chartArea } = chart;
    ctx.save();
    ctx.strokeStyle = "#000000";
    ctx.lineWidth = 1.2;
    ctx.strokeRect(chartArea.left, chartArea.top, chartArea.right - chartArea.left, chartArea.bottom - chartArea.top);

    // 범례 박스
    ctx.beginPath();
    ctx.roundRect(125, 32.7, 121.7, 36.6, 4);
    ctx.fillStyle = "rgba(255,255,255,0.8)";
    ctx.fill();
    ctx.strokeStyle = "#cccccc";
    ctx.lineWidth = 1;
    ctx.stroke();
    ctx.beginPath();
    ctx.moveTo(132.3, 49.3);
    ctx.lineTo(176, 49.3);
    ctx.strokeStyle = "#000000";
    ctx.lineWidth = 1.2;
    ctx.stroke();
    ctx.fillStyle = "#000000";
    ctx.font = "19.5px 'DejaVu Sans'";
    ctx.textBaseline = "alphabetic";
    ctx.textAlign = "left";
    ctx.fillText("CMB", 192.3, 56.7);

    // x축 제목: Ω_b h^2
    ctx.font = "30px 'Liberation Serif'";
    ctx.fillText("Ω", 265.7, 441.7);
    ctx.font = "italic 21px 'Liberation Serif'";
    ctx.fillText("b", 288, 447.3);
    ctx.font = "italic 30px 'Liberation Serif'";
    ctx.fillText("h", 300, 441.7);
    ctx.font = "21px 'Liberation Serif'";
    ctx.fillText("2", 318.5, 433.3);

    // y축 제목: H_0
    ctx.translate(38.3, 213.3);
    ctx.rotate(-Math.PI / 2);
    ctx.font = "italic 31px 'Liberation Serif'";
    ctx.fillText("H", 0, 0);
    const w = ctx.measureText("H").width;
    ctx.font = "21px 'Liberation Serif'";
    ctx.fillText("0", w - 1, 5);
    ctx.restore();
  }
};

const mainCtx = document.getElementById("mainChart").getContext("2d");
new Chart(mainCtx, {
  type: "scatter",
  data: {
    datasets: [
      {
        data: outerOmega.map((x, i) => ({ x, y: outerH0[i] })),
        showLine: true,
        borderColor: "#000000",
        borderWidth: 1.2,
        pointRadius: 0,
        tension: 0.35,
        fill: false,
        order: 0
      },
      {
        data: innerOmega.map((x, i) => ({ x, y: innerH0[i] })),
        showLine: true,
        borderColor: "#000000",
        borderWidth: 1.2,
        pointRadius: 0,
        tension: 0.35,
        fill: false,
        order: 0
      },
      {
        data: allPoints.map((p) => ({ x: p[0], y: p[1] })),
        pointRadius: 1.6,
        pointBorderWidth: 0,
        pointBackgroundColor: allPoints.map((p) => jetColor(p[2])),
        order: 1
      }
    ]
  },
  options: {
    responsive: false,
    animation: false,
    devicePixelRatio: 1,
    layout: { padding: { left: 0, right: 183.3, top: 22.3, bottom: 0 } },
    plugins: { legend: { display: false }, tooltip: { enabled: false } },
    scales: {
      x: {
        type: "linear",
        min: 0.021589,
        max: 0.02283,
        afterBuildTicks: (s) => { s.ticks = xTicks.map((v) => ({ value: v })); },
        afterFit: (s) => { s.height = 96.7; },
        grid: { drawOnChartArea: false, drawTicks: true, tickLength: 4, color: "#000000" },
        border: { display: true, color: "#000000", width: 1.2 },
        ticks: {
          color: "#000000",
          font: { family: "DejaVu Sans", size: 20 },
          padding: 11,
          maxRotation: 0,
          autoSkip: false,
          callback: (v) => Number(v).toFixed(4)
        }
      },
      y: {
        type: "linear",
        min: 74.12,
        max: 80.43,
        afterBuildTicks: (s) => { s.ticks = yTicks.map((v) => ({ value: v })); },
        afterFit: (s) => { s.width = 114.3; },
        grid: { drawOnChartArea: false, drawTicks: true, tickLength: 4, color: "#000000" },
        border: { display: true, color: "#000000", width: 1.2 },
        ticks: {
          color: "#000000",
          font: { family: "DejaVu Sans", size: 20 },
          padding: 11,
          autoSkip: false,
          callback: (v) => Number(v).toFixed(1)
        }
      }
    }
  },
  plugins: [frameAndLabels]
});

// 컬러바 라벨
const cbarLabel = {
  id: "cbarLabel",
  afterDraw(chart) {
    const { ctx } = chart;
    ctx.save();
    ctx.translate(142, 191);
    ctx.rotate(Math.PI / 2);
    ctx.fillStyle = "#000000";
    ctx.font = "italic 30px 'Liberation Serif'";
    ctx.textAlign = "center";
    ctx.textBaseline = "middle";
    ctx.fillText("η", 0, 0);
    ctx.restore();
  }
};

const cbarCtx = document.getElementById("cbarChart").getContext("2d");
new Chart(cbarCtx, {
  type: "bar",
  data: {
    labels: [""],
    datasets: [{
      data: [[cbMin, cbMax]],
      backgroundColor: (c) => {
        const area = c.chart.chartArea;
        if (!area) return "#888888";
        const g = c.chart.ctx.createLinearGradient(0, area.bottom, 0, area.top);
        for (let i = 0; i <= 40; i++) g.addColorStop(i / 40, jetAt(i / 40));
        return g;
      },
      borderColor: "#000000",
      borderWidth: 1.2,
      borderSkipped: false,
      barPercentage: 1,
      categoryPercentage: 1
    }]
  },
  options: {
    responsive: false,
    animation: false,
    devicePixelRatio: 1,
    layout: { padding: { left: 14.3, right: 0, top: 20.7, bottom: 96.7 } },
    plugins: { legend: { display: false }, tooltip: { enabled: false } },
    scales: {
      x: { display: false },
      y: {
        position: "right",
        min: cbMin,
        max: cbMax,
        afterBuildTicks: (s) => { s.ticks = cbTicks.map((v) => ({ value: v })); },
        afterFit: (s) => { s.width = 142.7; },
        grid: { drawOnChartArea: false, drawTicks: true, tickLength: 4, color: "#000000" },
        border: { display: true, color: "#000000", width: 1.2 },
        ticks: {
          color: "#000000",
          font: { family: "DejaVu Sans", size: 24 },
          padding: 11,
          autoSkip: false,
          callback: (v) => Number(v).toFixed(4)
        }
      }
    }
  },
  plugins: [cbarLabel]
});
</script>
</body>
</html>
